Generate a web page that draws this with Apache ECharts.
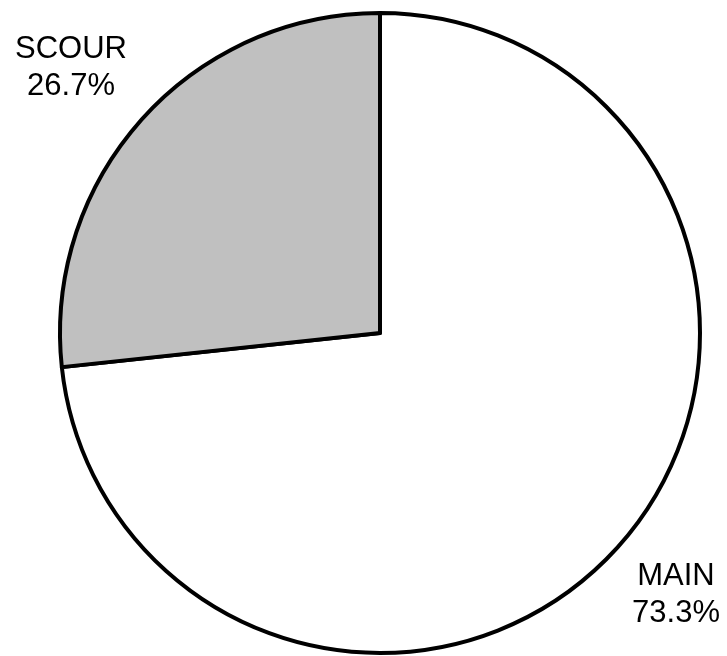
<!DOCTYPE html>
<html>
<head>
<meta charset="utf-8">
<script src="https://cdn.jsdelivr.net/npm/echarts@6/dist/echarts.min.js"></script>
<style>
  html, body { margin: 0; padding: 0; background: #fff; }
  #chart { width: 727px; height: 656px; }
</style>
</head>
<body>
<div id="chart"></div>
<script>
// slice names and shares (percent), clockwise from 12 o'clock
const names = ['MAIN', 'SCOUR'];
const shares = [73.3, 26.7];
const colors = ['#ffffff', '#c0c0c0'];

// where each label block is centred
const labelPos = [[676, 595], [71, 68]];

const chart = echarts.init(document.getElementById('chart'), null, { renderer: 'canvas' });

chart.setOption({
    animation: false,
    backgroundColor: '#ffffff',
    series: [
        {
            type: 'pie',
            center: [380, 333],
            radius: [0, 320],
            startAngle: 90,
            clockwise: true,
            silent: true,
            data: names.map((n, i) => ({
                name: n,
                value: shares[i],
                itemStyle: { color: colors[i] }
            })),
            itemStyle: {
                borderColor: '#000000',
                borderWidth: 4
            },
            label: {
                show: true,
                position: 'outside',
                formatter: '{b}\n{c}%',
                fontFamily: 'Liberation Sans, Arial, sans-serif',
                fontSize: 31,
                lineHeight: 37,
                color: '#000000',
                align: 'center',
                overflow: 'none',
                bleedMargin: 0
            },
            labelLine: { show: false },
            labelLayout: (params) => ({
                x: labelPos[params.dataIndex][0],
                y: labelPos[params.dataIndex][1],
                align: 'center',
                verticalAlign: 'middle'
            })
        }
    ]
});
</script>
</body>
</html>
